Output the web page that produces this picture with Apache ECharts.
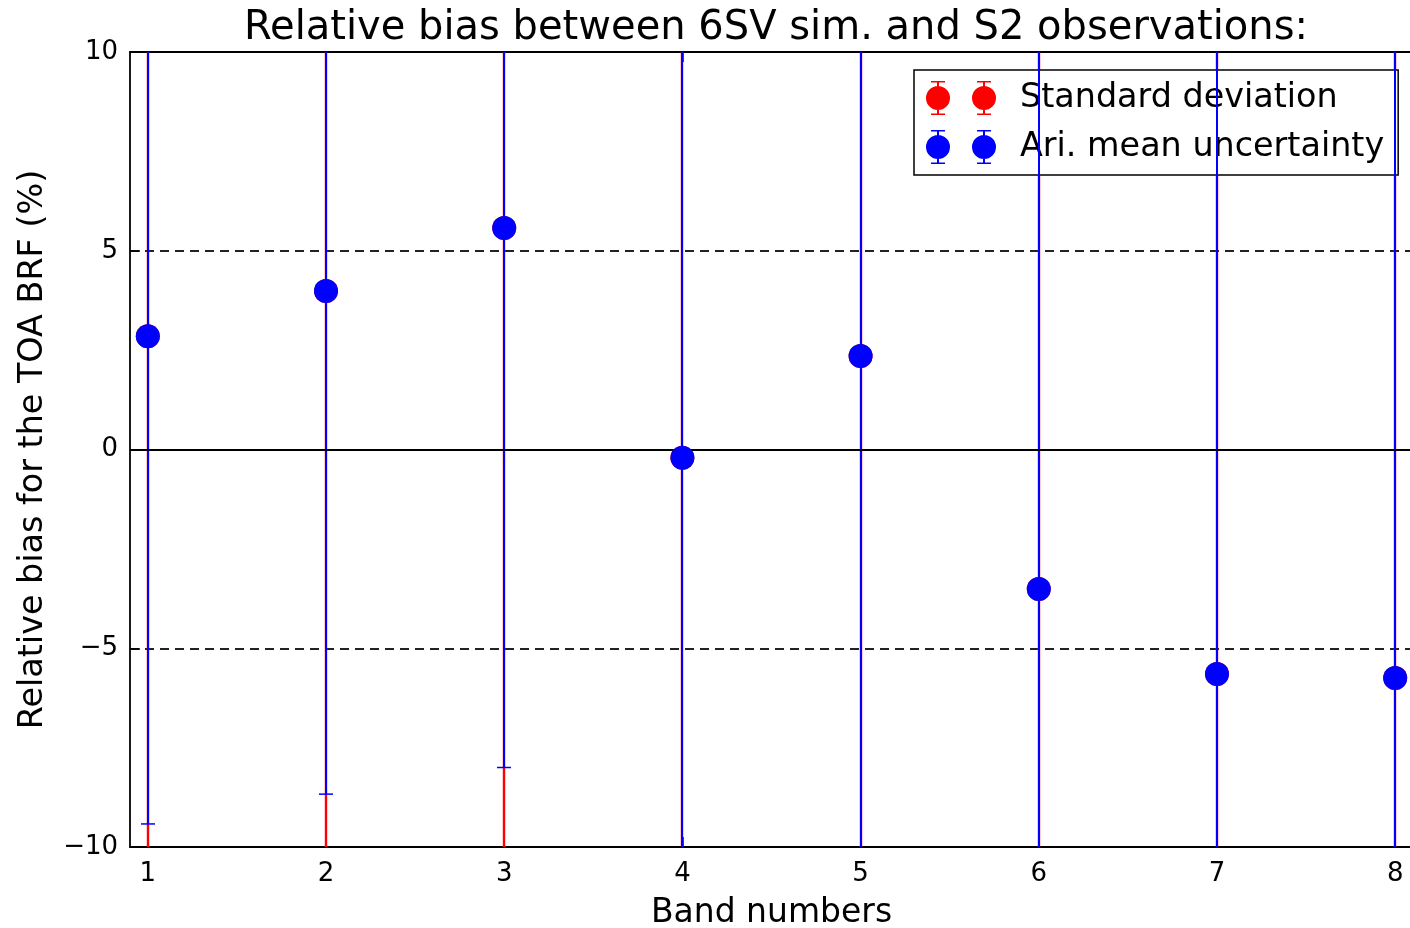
<!DOCTYPE html>
<html>
<head>
<meta charset="utf-8">
<script src="https://cdn.jsdelivr.net/npm/echarts@6/dist/echarts.min.js"></script>
<style>
  html, body { margin: 0; padding: 0; background: #fff; }
  #chart { width: 1410px; height: 928px; }
</style>
</head>
<body>
<div id="chart"></div>
<script>
// Band numbers on the x axis
const bands = [1, 2, 3, 4, 5, 6, 7, 8];
// Relative bias (%) of the simulated TOA BRF per band
const meanBias = [2.85, 3.99, 5.57, -0.21, 2.35, -3.51, -5.65, -5.75];
// Standard deviation of the bias (%)
const stdDev = [14.2, 14.8, 15.8, 16.0, 16.5, 17.8, 18.4, 18.9];
// Uncertainty of the arithmetic mean (%)
const meanUncert = [12.27, 12.66, 13.57, 14.6, 15.2, 16.6, 17.1, 17.6];
// Tick values
const yTicks = [-10, -5, 0, 5, 10];

const FONT = 'DejaVu Sans';
const RED = '#ff0000';
const BLUE = '#0000ff';

// Legend glyph: two markers, each with a capped vertical error bar
const legendIcon = 'path://' +
  'M11,0 L13,0 L13,34 L11,34 Z M5,0 L19,0 L19,1.6 L5,1.6 Z M5,32.4 L19,32.4 L19,34 L5,34 Z ' +
  'M0,17 A12,12 0 1,1 24,17 A12,12 0 1,1 0,17 Z ' +
  'M57,0 L59,0 L59,34 L57,34 Z M51,0 L65,0 L65,1.6 L51,1.6 Z M51,32.4 L65,32.4 L65,34 L51,34 Z ' +
  'M46,17 A12,12 0 1,1 70,17 A12,12 0 1,1 46,17 Z';

function errorBars(color, width) {
  return function (params, api) {
    const x = api.value(0), m = api.value(1), e = api.value(2);
    const hi = api.coord([x, m + e]);
    const lo = api.coord([x, m - e]);
    const cs = params.coordSys;
    const yTop = cs.y, yBot = cs.y + cs.height;
    const y1 = Math.max(hi[1], yTop), y2 = Math.min(lo[1], yBot);
    const px = Math.round(hi[0]);
    const children = [{
      type: 'line',
      shape: { x1: px, y1: y1, x2: px, y2: y2 },
      style: { stroke: color, lineWidth: width }
    }];
    const capHalf = 7;
    [hi[1], lo[1]].forEach(function (cy) {
      if (cy >= yTop && cy <= yBot) {
        children.push({
          type: 'line',
          shape: { x1: px - capHalf, y1: cy, x2: px + capHalf, y2: cy },
          style: { stroke: color, lineWidth: 1.5 }
        });
      }
    });
    return { type: 'group', children: children };
  };
}

const chart = echarts.init(document.getElementById('chart'), null, { renderer: 'canvas' });

const xCommon = {
  type: 'value', min: 0.9, max: 8.1,
  axisLine: { show: true, onZero: false, lineStyle: { color: '#000', width: 1.8 } },
  splitLine: { show: false }
};

chart.setOption({
  animation: false,
  backgroundColor: '#fff',
  title: {
    text: 'Relative bias between 6SV sim. and S2 observations:',
    left: 771, top: 4, textAlign: 'center',
    textStyle: { fontFamily: FONT, fontSize: 40, fontWeight: 'normal', color: '#000' }
  },
  legend: {
    orient: 'vertical',
    left: 914, top: 70,
    padding: [11, 14, 11, 12],
    itemGap: 15,
    itemWidth: 70, itemHeight: 34,
    backgroundColor: '#fff',
    borderColor: '#000', borderWidth: 1.5,
    textStyle: { fontFamily: FONT, fontSize: 33.4, color: '#000', padding: [0, 0, 0, 19] },
    data: [
      { name: 'Standard deviation', icon: legendIcon },
      { name: 'Ari. mean uncertainty', icon: legendIcon }
    ]
  },
  grid: { left: 130, top: 52, width: 1283, height: 795, outerBoundsMode: 'none', containLabel: false },
  xAxis: [
    Object.assign({}, xCommon, {
      position: 'bottom',
      name: 'Band numbers', nameLocation: 'middle', nameGap: 50,
      nameTextStyle: { fontFamily: FONT, fontSize: 33, color: '#000' },
      axisTick: { show: true, inside: true, length: 10, customValues: bands, lineStyle: { color: '#000', width: 1.5 } },
      axisLabel: { show: true, customValues: bands, margin: 14, fontFamily: FONT, fontSize: 26, color: '#000' }
    }),
    Object.assign({}, xCommon, {
      position: 'top',
      axisTick: { show: true, inside: true, length: 10, customValues: bands, lineStyle: { color: '#000', width: 1.5 } },
      axisLabel: { show: false }
    })
  ],
  yAxis: {
    type: 'value', min: -10, max: 10, interval: 5,
    name: 'Relative bias for the TOA BRF (%)', nameLocation: 'middle', nameGap: 80, nameRotate: 90,
    nameTextStyle: { fontFamily: FONT, fontSize: 33.4, color: '#000' },
    axisLine: { show: true, onZero: false, lineStyle: { color: '#000', width: 1.8 } },
    axisTick: { show: true, inside: true, length: 10, lineStyle: { color: '#000', width: 1.5 } },
    axisLabel: {
      margin: 12, fontFamily: FONT, fontSize: 26, color: '#000',
      customValues: yTicks,
      formatter: function (v) { return String(v).replace('-', '\u2212'); }
    },
    splitLine: { show: true, lineStyle: { color: '#222', width: 2, type: [9, 6] } }
  },
  series: [
    {
      name: 'Standard deviation', type: 'custom', z: 2,
      renderItem: errorBars(RED, 2.4),
      itemStyle: { color: RED },
      data: bands.map(function (b, i) { return [b, meanBias[i], stdDev[i]]; }),
      markLine: {
        silent: true, symbol: 'none', label: { show: false },
        lineStyle: { color: '#000', width: 2, type: 'solid' },
        data: [{ yAxis: 0 }]
      }
    },
    {
      name: 'Standard deviation', type: 'scatter', z: 3,
      symbol: 'circle', symbolSize: 24,
      itemStyle: { color: RED, opacity: 1 },
      data: bands.map(function (b, i) { return [b, meanBias[i]]; })
    },
    {
      name: 'Ari. mean uncertainty', type: 'custom', z: 4,
      renderItem: errorBars(BLUE, 2),
      itemStyle: { color: BLUE },
      data: bands.map(function (b, i) { return [b, meanBias[i], meanUncert[i]]; })
    },
    {
      name: 'Ari. mean uncertainty', type: 'scatter', z: 5,
      symbol: 'circle', symbolSize: 24,
      itemStyle: { color: BLUE, opacity: 1 },
      data: bands.map(function (b, i) { return [b, meanBias[i]]; })
    }
  ]
});
</script>
</body>
</html>
